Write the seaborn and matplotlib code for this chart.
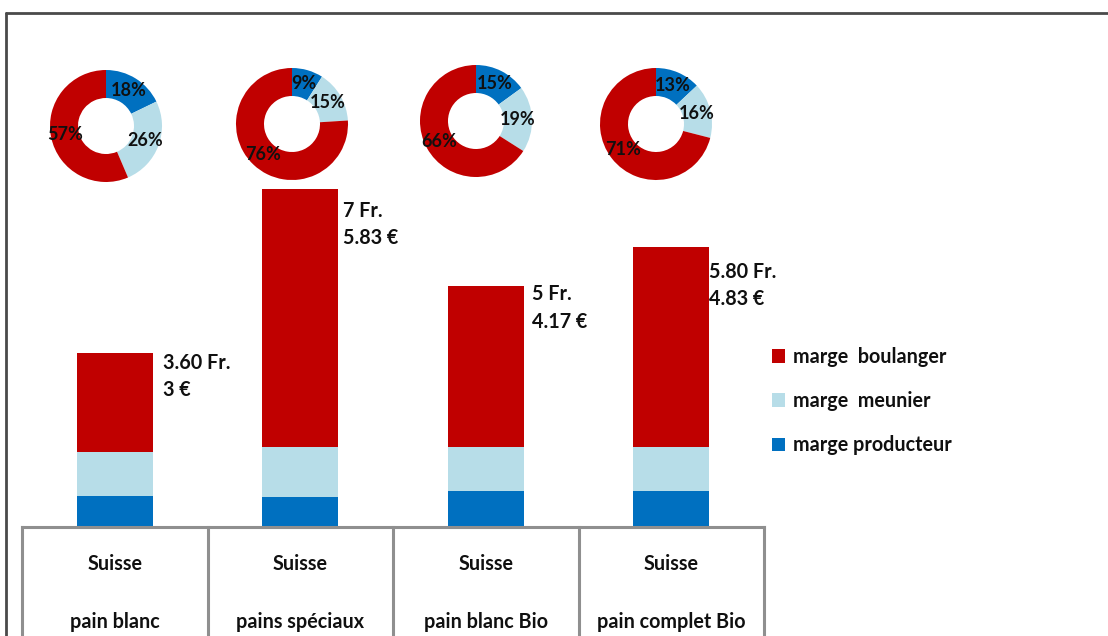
import matplotlib
matplotlib.use("Agg")
import matplotlib.pyplot as plt
import seaborn as sns
from matplotlib.lines import Line2D
from matplotlib.patches import Patch
from matplotlib.transforms import blended_transform_factory
import numpy as np

# --- data -----------------------------------------------------------------
origine = ["Suisse", "Suisse", "Suisse", "Suisse"]
categories = ["pain blanc", "pains spéciaux", "pain blanc Bio", "pain complet Bio"]

# price build-up per loaf, in Swiss francs
marge_producteur = [0.62, 0.60, 0.73, 0.73]
marge_meunier = [0.92, 1.04, 0.91, 0.91]
marge_boulanger = [2.06, 5.36, 3.36, 4.16]

prix_fr = ["3.60 Fr.", "7 Fr.", "5 Fr.", "5.80 Fr."]
prix_eur = ["3 €", "5.83 €", "4.17 €", "4.83 €"]

# shares of the price (%), shown in the rings
part_producteur = [18, 9, 15, 13]
part_meunier = [26, 15, 19, 16]
part_boulanger = [57, 76, 66, 71]

serie_noms = ["marge  boulanger", "marge  meunier", "marge producteur"]

# --- style ----------------------------------------------------------------
ROUGE = "#C00000"
BLEU_CLAIR = "#B7DDE8"
BLEU = "#0070C0"
TXT = "#101010"

sns.set_theme(style="white")
plt.rcParams["font.family"] = ["Lato", "DejaVu Sans"]
plt.rcParams["font.weight"] = "bold"

W, H = 1108, 636
fig = plt.figure(figsize=(W / 100, H / 100), dpi=100)
fig.patch.set_facecolor("white")


def fx(px):
    return px / W


def fy(py):
    return 1 - py / H


# main stacked-bar axes
ax = fig.add_axes([fx(22), fy(526), fx(764) - fx(22), fy(60) - fy(526)])

prod = np.array(marge_producteur)
meun = np.array(marge_meunier)
boul = np.array(marge_boulanger)
total = prod + meun + boul

bar_kw = dict(width=0.41, saturation=1, linewidth=0, ax=ax)
sns.barplot(x=categories, y=total, color=ROUGE, **bar_kw)
sns.barplot(x=categories, y=prod + meun, color=BLEU_CLAIR, **bar_kw)
sns.barplot(x=categories, y=prod, color=BLEU, **bar_kw)

ax.set_xlim(-0.5, 3.5)
ax.set_ylim(0, 466 / 48.1)
ax.set_axis_off()

FS = 14.2

# price labels beside each bar
lab_dx = [10, 5, 8, 0]
lab_dy = [10, 22, 9, 25]
for i in range(len(categories)):
    for k, txt in enumerate([prix_fr[i], prix_eur[i]]):
        ax.annotate(txt, xy=(i + 0.205, total[i]),
                    xytext=(lab_dx[i], -lab_dy[i] - 27 * k),
                    textcoords="offset pixels", ha="left", va="center",
                    fontsize=FS, fontweight="bold", color=TXT,
                    annotation_clip=False)

# category table under the bars
tr = blended_transform_factory(ax.transData, fig.transFigure)
grid_kw = dict(color="#8f8f8f", lw=2.2, transform=tr, clip_on=False,
               solid_capstyle="projecting")
ax.plot([-0.5, 3.5], [fy(527), fy(527)], **grid_kw)
for xe in np.arange(-0.5, 4.0, 1.0):
    ax.plot([xe, xe], [fy(527), fy(660)], **grid_kw)
for i, (o, c) in enumerate(zip(origine, categories)):
    ax.text(i, fy(564), o, transform=tr, ha="center", va="center",
            fontsize=FS, fontweight="bold", color=TXT)
    ax.text(i, fy(622), c, transform=tr, ha="center", va="center",
            fontsize=FS, fontweight="bold", color=TXT)

# ring charts above the bars
centres = [(106, 126), (292, 124), (476, 121), (656, 124)]
R = 56
for i, (cx, cy) in enumerate(centres):
    axd = fig.add_axes([fx(cx - R), fy(cy + R), fx(2 * R), fx(2 * R) * W / H])
    vals = [part_producteur[i], part_meunier[i], part_boulanger[i]]
    wedges, _ = axd.pie(vals, colors=[BLEU, BLEU_CLAIR, ROUGE], startangle=90,
                        counterclock=False, radius=1,
                        wedgeprops=dict(width=0.5, edgecolor="none"))
    for w, v in zip(wedges, vals):
        ang = np.deg2rad((w.theta1 + w.theta2) / 2)
        axd.text(0.75 * np.cos(ang), 0.75 * np.sin(ang), f"{v}%",
                 ha="center", va="center", fontsize=13, fontweight="bold",
                 color=TXT)
    axd.set_xlim(-1, 1)
    axd.set_ylim(-1, 1)
    axd.set_aspect("equal")
    axd.set_axis_off()

# legend
handles = [Patch(facecolor=c, edgecolor="none") for c in [ROUGE, BLEU_CLAIR, BLEU]]
fig.legend(handles, serie_noms, loc="upper left",
           bbox_to_anchor=(fx(772), fy(347)), frameon=False,
           handlelength=0.66, handleheight=0.66, handletextpad=0.4,
           labelspacing=1.22, borderpad=0, borderaxespad=0,
           prop=dict(size=FS, weight="bold"), labelcolor=TXT)

# outer frame
frame_kw = dict(color="#4a4a4a", lw=2.0, transform=fig.transFigure)
fig.add_artist(Line2D([fx(6), 1.02], [fy(13), fy(13)], **frame_kw))
fig.add_artist(Line2D([fx(6), fx(6)], [fy(13), -0.02], **frame_kw))

fig.savefig("out.png", dpi=100, facecolor="white")
